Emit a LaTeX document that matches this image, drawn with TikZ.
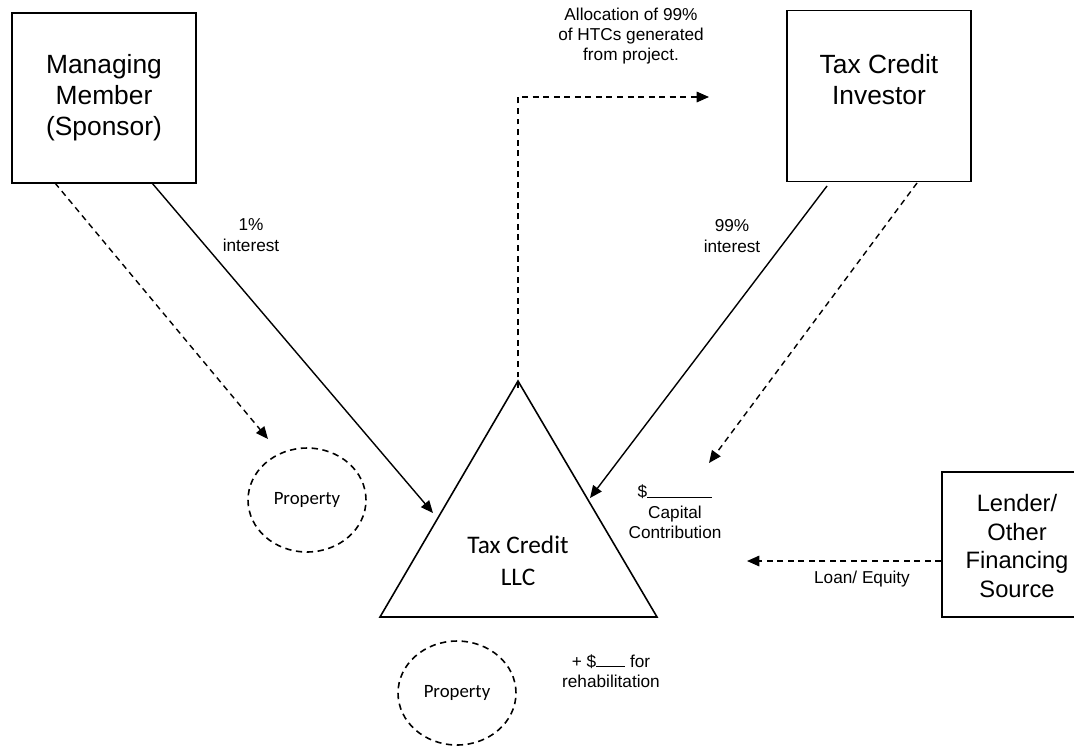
\documentclass[tikz,border=0pt]{standalone}
\usepackage{fontspec}
\setmainfont{Liberation Sans}
\newfontfamily\calibri{Carlito}
\usetikzlibrary{arrows.meta, shapes.geometric}

\tikzset{
  party/.style={draw, line width=0.9pt, align=center, inner sep=0pt,
    font=\fontsize{15}{17.6}\selectfont},
  prop/.style={draw, ellipse, dashed, dash pattern=on 3.6pt off 2.6pt, line width=0.9pt,
    minimum width=2.36cm, minimum height=2.08cm, inner sep=0pt,
    font=\calibri\fontsize{10.7}{13}\selectfont},
  lbl/.style={align=center, inner sep=0pt, font=\fontsize{9.8}{11.6}\selectfont},
  flow/.style={line width=0.8pt, -{Triangle[length=7pt,width=6pt]}},
  share/.style={flow, dashed, dash pattern=on 3.4pt off 2.6pt}
}

\begin{document}
\begin{tikzpicture}[x=0.02cm, y=-0.02cm]
                \useasboundingbox (0,0) rectangle (1074,745);
                % Draw the parties
                \node[party, minimum width=3.68cm, minimum height=3.4cm] (mm) at (104,98) {Managing\\Member\\(Sponsor)};
                \node[party, minimum width=3.68cm, minimum height=3.42cm] (tci) at (879,96) {};
                \node[party, draw=none] (tcitext) at (879,80) {Tax Credit\\Investor};
                \node[party, minimum width=4cm, minimum height=2.9cm] (lender) at (1042,544.5) {};
                \node[party, draw=none, font=\fontsize{13.5}{16.4}\selectfont] (lendertext) at (1017,546) {Lender/\\Other\\Financing\\Source};
                % Draw the LLC triangle
                \coordinate (llctop) at (518,381);
                \coordinate (llcleft) at (380,617);
                \coordinate (llcright) at (657,617);
                \draw[line width=0.9pt] (llctop) -- (llcleft) -- (llcright) -- cycle;
                \node[align=center, inner sep=0pt, font=\calibri\fontsize{14.4}{18}\selectfont] (llc) at (518,561) {Tax Credit\\LLC};
                % Draw the properties
                \node[prop] (prop1) at (307,500) {Property};
                \node[prop] (prop2) at (457,693) {Property};
                % Arrow ends
                \coordinate (mmsolid) at (152,183);
                \coordinate (mmdash) at (55,183);
                \coordinate (tcisolid) at (827,186);
                \coordinate (tcidash) at (917,183);
                \coordinate (llcin1) at (433,513);
                \coordinate (llcin2) at (590,498);
                \coordinate (propin) at (268,439);
                \coordinate (capin) at (709,463);
                \coordinate (corner) at (518,97);
                \coordinate (htcout) at (709,97);
                \coordinate (loanin) at (747,561);
                % Draw the arrows
                \draw[flow] (mmsolid) -- (llcin1);
                \draw[share] (mmdash) -- (propin);
                \draw[flow] (tcisolid) -- (llcin2);
                \draw[share] (tcidash) -- (capin);
                \draw[share] ([yshift=-4]llctop) -- (corner) -- (htcout);
                \draw[share] (lender.west |- loanin) -- (loanin);
                % Labels
                \node[lbl] (alloc) at (631,36) {Allocation of 99\%\\of HTCs generated\\from project.};
                \node[lbl] (mmint) at (251,235) {1\%\\interest};
                \node[lbl] (tciint) at (732,236) {99\%\\interest};
                \node[lbl] (capital) at (675,512) {\$\rule{1.3cm}{0.5pt}\\Capital\\Contribution};
                \node[lbl] (loan) at (862,579) {Loan/ Equity};
                \node[lbl] (rehab) at (611,671) {+ \$\rule{0.58cm}{0.5pt} for\\rehabilitation};
            \end{tikzpicture}
\end{document}
